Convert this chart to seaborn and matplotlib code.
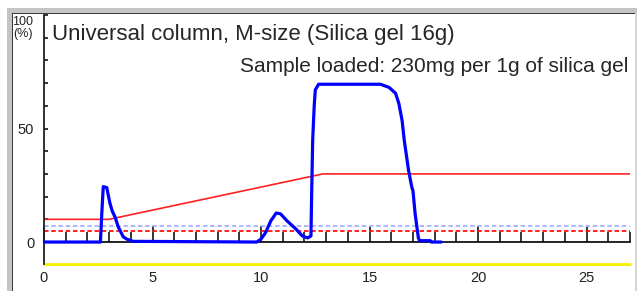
import numpy as np
import pandas as pd
import seaborn as sns
import matplotlib.pyplot as plt
from matplotlib.patches import Rectangle
from matplotlib.ticker import MultipleLocator

# chromatogram trace (time in min, detector %)
time_min = [0, 2.6, 2.66, 2.73, 2.89, 3.04, 3.15, 3.27, 3.42, 3.65, 3.81, 4.1,
            9.8, 10.0, 10.2, 10.45, 10.7, 10.9, 11.2, 11.6, 11.9, 12.15, 12.3,
            12.33, 12.38, 12.45, 12.5, 12.65, 15.5, 15.9, 16.2, 16.35, 16.5,
            16.6, 16.8, 16.95, 17.0, 17.1, 17.25, 17.3, 17.8, 17.85, 18.3]
uv_pct = [0, 0, 12, 24.4, 24.0, 17, 13.5, 11.1, 6.7, 2.3, 1.3, 0.3,
          0, 1.3, 4, 9.3, 12.8, 12.4, 9.3, 5.8, 2.7, 1.8, 2.7,
          20, 45, 60, 67, 69.5, 69.5, 68.1, 65.5, 61, 53.5,
          44.7, 31.4, 24, 22.6, 12.4, 1.8, 0.6, 0.6, 0, 0]

# solvent gradient
gradient_time = [0, 3.0, 12.85, 27]
gradient_pct = [10, 10, 30, 30]

threshold_red = 5
threshold_blue = 7
floor_level = -9.5

title = "Universal column, M-size (Silica gel 16g)"
subtitle = "Sample loaded: 230mg per 1g of silica gel"
x_ticks = [0, 5, 10, 15, 20, 25]
y_ticks = list(range(0, 101, 10))
y_labels = ["0", "", "", "", "", "50", "", "", "", "", ""]

sns.set_style("white")
plt.rcParams['font.family'] = ['Liberation Sans', 'DejaVu Sans']

W, H = 637, 291
fig = plt.figure(figsize=(W / 100, H / 100), dpi=100)
ax = fig.add_axes([44 / W, 1 - 263.6 / H, 586 / W, 248.6 / H])

# window frame
frame = [((7, 0), 4.5, H - 8, '#c4c4c4'),
         ((7, H - 12.7), W - 7, 4.4, '#c4c4c4'),
         ((11.5, H - 14.3), W - 11.5, 1.8, '#3c3c3c'),
         ((11.5, 0), 1.8, H - 12.7, '#3c3c3c'),
         ((634.5, 0), 2.5, H - 12.7, '#d4d4d4')]
for (x0, y0), w, h, c in frame:
    fig.add_artist(Rectangle((x0 / W, y0 / H), w / W, h / H,
                             transform=fig.transFigure, color=c, lw=0))

sns.lineplot(x=gradient_time, y=gradient_pct, color='#ff2020', lw=1.2,
             estimator=None, sort=False, ax=ax, zorder=2)
ax.axhline(threshold_blue, color='#a8b2ff', ls=(0, (2.5, 1.5)), lw=1.3, zorder=1)
ax.axhline(threshold_red, color='#ff1010', ls=(0, (2.5, 1.5)), lw=1.3, zorder=1)
ax.axhline(floor_level, color='#f2f200', lw=2, clip_on=False, zorder=1)
sns.lineplot(x=time_min, y=uv_pct, color='#0000ff', lw=2.3,
             estimator=None, sort=False, ax=ax, zorder=4)

ax.set_xlim(0, 27)
ax.set_ylim(floor_level, 100)
ax.set_xlabel("")
ax.set_ylabel("")
ax.grid(False)
for s in ['top', 'right']:
    ax.spines[s].set_visible(False)
ax.spines['bottom'].set_position(('data', 0))
ax.spines['bottom'].set_color('black')
ax.spines['bottom'].set_linewidth(1.2)
ax.spines['left'].set_color('#202020')
ax.spines['left'].set_linewidth(1.3)

ax.set_xticks(x_ticks)
ax.set_xticklabels([str(t) for t in x_ticks])
ax.xaxis.set_minor_locator(MultipleLocator(1))
ax.tick_params(axis='x', which='major', bottom=True, direction='in', length=11.5,
               width=1.1, pad=21, labelsize=10.5, color='black',
               labelcolor='#222222')
ax.tick_params(axis='x', which='minor', bottom=True, direction='in', length=7.2,
               width=1.1, color='black')
ax.set_yticks(y_ticks)
ax.set_yticklabels(y_labels)
ax.tick_params(axis='y', left=True, direction='in', length=3, width=1.1, pad=7,
               labelsize=10.5, color='black', labelcolor='#222222')

fig.text(52 / W, 1 - 40 / H, title, fontsize=16, va='baseline', ha='left')
fig.text(628 / W, 1 - 72 / H, subtitle, fontsize=15, va='baseline', ha='right')
fig.text(23 / W, 1 - 16 / H, "100\n(%)", fontsize=9, ha='center', va='top',
         linespacing=1.05)

fig.savefig('out.png', dpi=100)
